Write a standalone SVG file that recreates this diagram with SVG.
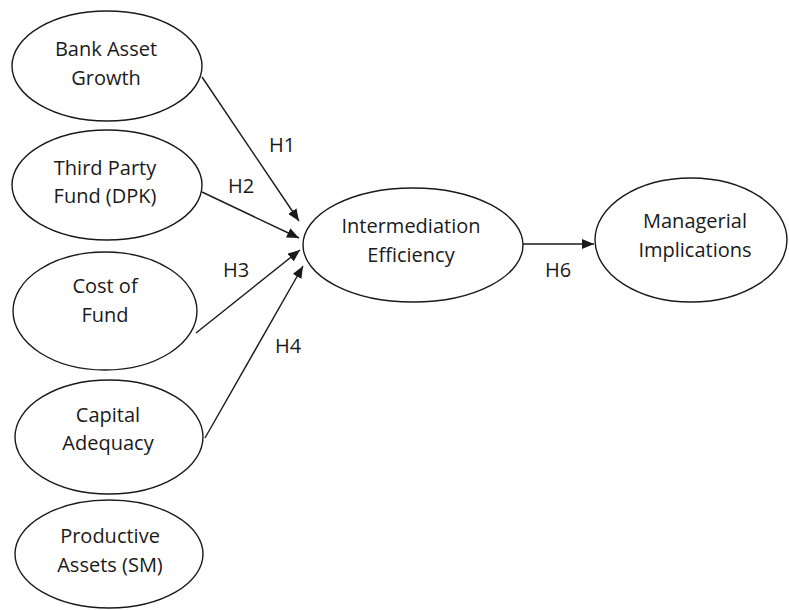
<svg xmlns="http://www.w3.org/2000/svg" width="789" height="610" viewBox="0 0 789 610">
  <style>
    .node ellipse { fill: #ffffff; stroke: #1a1a1a; stroke-width: 1.4; }
    .lbl { font-family: "Open Sans", "Noto Sans", sans-serif; font-size: 20px; fill: #1a1a1a; text-anchor: middle; }
    .edge { stroke: #1a1a1a; stroke-width: 1.4; fill: none; marker-end: url(#arrow); }
  </style>
  <defs>
    <marker id="arrow" viewBox="0 0 12 10" refX="12" refY="5" markerWidth="12" markerHeight="10" markerUnits="userSpaceOnUse" orient="auto">
      <path d="M0,0 L12,5 L0,10 Z" fill="#1a1a1a"/>
    </marker>
  </defs>
  <rect width="789" height="610" fill="#ffffff"/>

  <!-- connectors -->
  <g id="connectors">
    <line class="edge" x1="202" y1="77" x2="299" y2="221"/>
    <line class="edge" x1="202" y1="192" x2="299" y2="238"/>
    <line class="edge" x1="196" y1="333" x2="300" y2="250"/>
    <line class="edge" x1="205" y1="438" x2="303" y2="266"/>
    <line class="edge" x1="523" y1="244" x2="594" y2="244"/>
    <text class="lbl" x="282" y="152">H1</text>
    <text class="lbl" x="241" y="193">H2</text>
    <text class="lbl" x="236" y="277">H3</text>
    <text class="lbl" x="288" y="353">H4</text>
    <text class="lbl" x="558" y="277">H6</text>
  </g>

  <g id="bank-asset-growth" class="node">
    <ellipse cx="107" cy="66" rx="95" ry="55"/>
    <text class="lbl" x="106" y="56">Bank Asset</text>
    <text class="lbl" x="106" y="85">Growth</text>
  </g>

  <g id="third-party-fund" class="node">
    <ellipse cx="107" cy="185" rx="95" ry="55"/>
    <text class="lbl" x="105" y="175">Third Party</text>
    <text class="lbl" x="105" y="203">Fund (DPK)</text>
  </g>

  <g id="cost-of-fund" class="node">
    <ellipse cx="105" cy="311" rx="92" ry="59"/>
    <text class="lbl" x="105" y="293">Cost of</text>
    <text class="lbl" x="105" y="322">Fund</text>
  </g>

  <g id="capital-adequacy" class="node">
    <ellipse cx="109" cy="437" rx="94" ry="57"/>
    <text class="lbl" x="108" y="422">Capital</text>
    <text class="lbl" x="108" y="450">Adequacy</text>
  </g>

  <g id="productive-assets" class="node">
    <ellipse cx="109" cy="554" rx="94" ry="54"/>
    <text class="lbl" x="110" y="543">Productive</text>
    <text class="lbl" x="110" y="572">Assets (SM)</text>
  </g>

  <g id="intermediation-efficiency" class="node">
    <ellipse cx="413" cy="245" rx="110" ry="57"/>
    <text class="lbl" x="411" y="233">Intermediation</text>
    <text class="lbl" x="411" y="262">Efficiency</text>
  </g>

  <g id="managerial-implications" class="node">
    <ellipse cx="691" cy="240" rx="96" ry="62"/>
    <text class="lbl" x="695" y="228">Managerial</text>
    <text class="lbl" x="695" y="257">Implications</text>
  </g>
</svg>
